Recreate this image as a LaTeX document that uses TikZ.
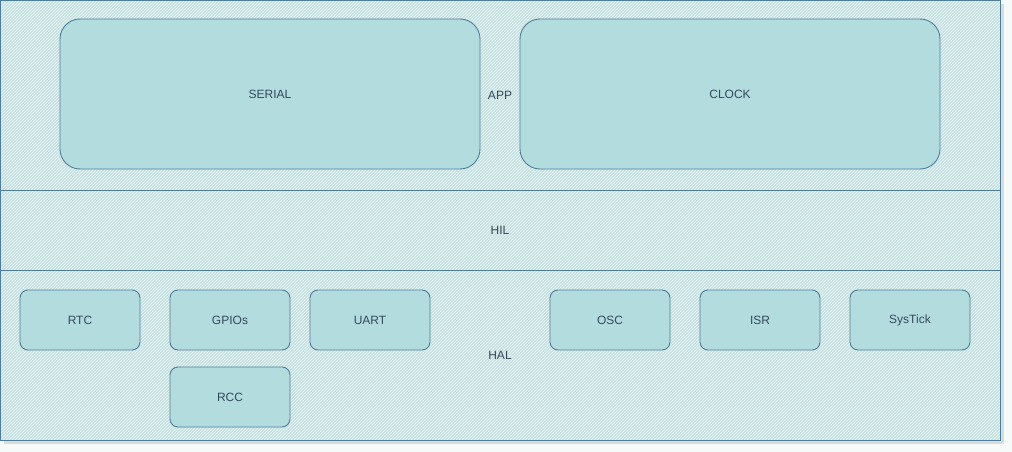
\documentclass[tikz,border=0pt]{standalone}
\usepackage{fontspec}
\setmainfont{Liberation Sans}
\usetikzlibrary{positioning,patterns}
\definecolor{edgeblue}{HTML}{4F7E9C}
\definecolor{layerfill}{HTML}{C8E3E2}
\definecolor{blockfill}{HTML}{B3DCDF}
\definecolor{textgray}{HTML}{34495A}
\tikzset{layer node/.style={rectangle,draw=edgeblue,line width=0.9pt,
    preaction={fill=layerfill},pattern=north east lines,pattern color=white!55!layerfill,
    minimum width=1000pt,minimum height=#1,inner sep=0pt,outer sep=0pt,text=textgray},
  block node/.style={rectangle,rounded corners=8pt,draw=edgeblue,line width=0.9pt,fill=blockfill,
    minimum width=120pt,minimum height=60pt,inner sep=0pt,outer sep=0pt,text=textgray},
  big node/.style={block node,rounded corners=20pt,minimum width=420pt,minimum height=150pt},
}
\begin{document}
\begin{tikzpicture}[x=1pt,y=-1pt,font=\fontsize{12}{14}\selectfont]
		\useasboundingbox[fill=white!60!layerfill!40] (0,0) rectangle (1012,452);
		\fill[black!25,opacity=0.5] (4,4) rectangle (1004,444);
		\node[layer node=190pt] (app) at (500,95) {APP};
		\node[layer node=80pt] (hil) at (500,230) {HIL};
		\node[layer node=170pt] (hal) at (500,355) {HAL};
		
		\node[big node] (serial) at (270,94) {SERIAL};
		\node[big node] (clock) [right = 40pt of serial] {CLOCK};
		
		\node[block node] (rtc) at (80,320) {RTC};
		\node[block node] (gpios) [right = 30pt of rtc] {GPIOs};
		\node[block node] (uart) [right = 20pt of gpios] {UART};
		\node[block node] (osc) [right = 120pt of uart] {OSC};
		\node[block node] (isr) [right = 30pt of osc] {ISR};
		\node[block node] (systick) [right = 30pt of isr] {SysTick};
		\node[block node] (rcc) [below = 17pt of gpios] {RCC};
	\end{tikzpicture}
\end{document}
